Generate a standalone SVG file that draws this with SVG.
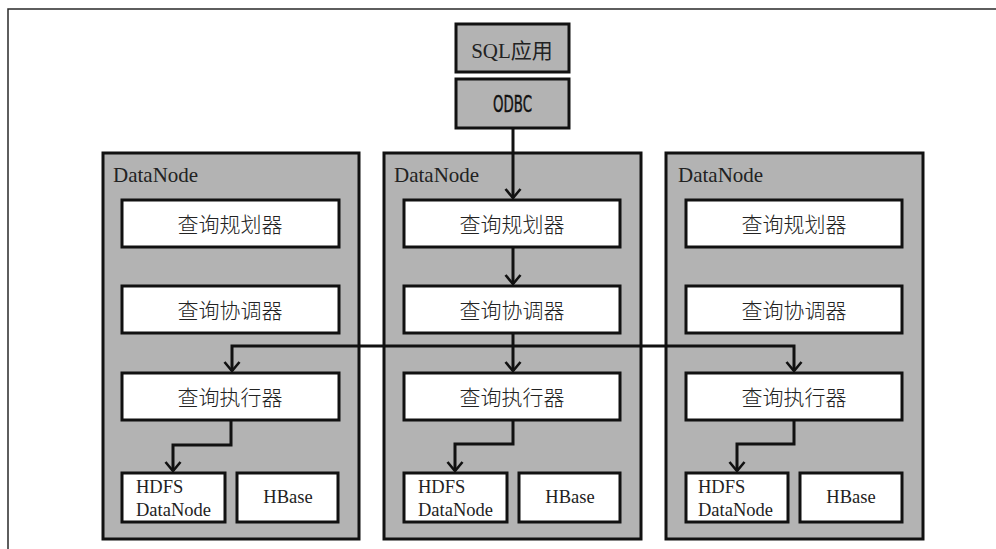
<svg xmlns="http://www.w3.org/2000/svg" width="996" height="549" viewBox="0 0 996 549">
<defs>
<style>
.frame{fill:none;stroke:#2a2a2a;stroke-width:1.5}
.gray{fill:#b3b3b3;stroke:#111;stroke-width:3}
.white{fill:#fff;stroke:#111;stroke-width:3}
.con{fill:none;stroke:#111;stroke-width:3}
.serif{font-family:"Liberation Serif","Noto Sans CJK SC",serif;fill:#222}
.cjk{font-family:"Noto Sans CJK SC",sans-serif;font-size:21px;font-weight:300;fill:#222;text-anchor:middle}
.dn{font-size:21px}
.small{font-size:18.5px}
.narrow{font-family:"DejaVu Sans Condensed","DejaVu Sans",sans-serif;font-stretch:condensed;font-size:23px;fill:#111;stroke:#111;stroke-width:0.4}
</style>
<marker id="arr" viewBox="0 0 12 18" refX="10" refY="9" markerWidth="12" markerHeight="18" markerUnits="userSpaceOnUse" orient="auto-start-reverse">
<path d="M1,1.5 L10,9 L1,16.5" fill="none" stroke="#111" stroke-width="2.6"/>
</marker>
</defs>
<rect width="996" height="549" fill="#fff"/>
<path class="frame" d="M8,549 V9 H996"/>

<g id="sql">
<rect class="gray" x="456" y="24" width="113" height="48"/>
<text class="serif" x="512" y="58" font-size="21" text-anchor="middle">SQL应用</text>
</g>
<g id="odbc">
<rect class="gray" x="456" y="79" width="113" height="49"/>
<text class="narrow" x="493" y="112" textLength="39" lengthAdjust="spacingAndGlyphs">ODBC</text>
</g>

<g id="datanode1">
<rect class="gray" x="103" y="153" width="256" height="386"/>
<text class="serif dn" x="113" y="182">DataNode</text>
<g id="planner1"><rect class="white" x="122" y="200" width="217" height="47"/><text class="cjk" x="230" y="232">查询规划器</text></g>
<g id="coord1"><rect class="white" x="122" y="286" width="217" height="47"/><text class="cjk" x="230" y="318">查询协调器</text></g>
<g id="exec1"><rect class="white" x="122" y="373" width="217" height="47"/><text class="cjk" x="230" y="405">查询执行器</text></g>
<g id="hdfs1"><rect class="white" x="122" y="473" width="103" height="49"/><text class="serif small" x="136" y="493">HDFS</text><text class="serif small" x="136" y="516">DataNode</text></g>
<g id="hbase1"><rect class="white" x="237" y="473" width="101" height="49"/><text class="serif small" x="288" y="503" text-anchor="middle">HBase</text></g>
</g>

<g id="datanode2">
<rect class="gray" x="384" y="153" width="257" height="386"/>
<text class="serif dn" x="394" y="182">DataNode</text>
<g id="planner2"><rect class="white" x="404" y="200" width="216" height="47"/><text class="cjk" x="512" y="232">查询规划器</text></g>
<g id="coord2"><rect class="white" x="404" y="286" width="216" height="47"/><text class="cjk" x="512" y="318">查询协调器</text></g>
<g id="exec2"><rect class="white" x="404" y="373" width="216" height="47"/><text class="cjk" x="512" y="405">查询执行器</text></g>
<g id="hdfs2"><rect class="white" x="404" y="473" width="103" height="49"/><text class="serif small" x="418" y="493">HDFS</text><text class="serif small" x="418" y="516">DataNode</text></g>
<g id="hbase2"><rect class="white" x="519" y="473" width="101" height="49"/><text class="serif small" x="570" y="503" text-anchor="middle">HBase</text></g>
</g>

<g id="datanode3">
<rect class="gray" x="666" y="153" width="257" height="386"/>
<text class="serif dn" x="678" y="182">DataNode</text>
<g id="planner3"><rect class="white" x="686" y="200" width="216" height="47"/><text class="cjk" x="794" y="232">查询规划器</text></g>
<g id="coord3"><rect class="white" x="686" y="286" width="216" height="47"/><text class="cjk" x="794" y="318">查询协调器</text></g>
<g id="exec3"><rect class="white" x="686" y="373" width="216" height="47"/><text class="cjk" x="794" y="405">查询执行器</text></g>
<g id="hdfs3"><rect class="white" x="686" y="473" width="102" height="49"/><text class="serif small" x="698" y="493">HDFS</text><text class="serif small" x="698" y="516">DataNode</text></g>
<g id="hbase3"><rect class="white" x="800" y="473" width="102" height="49"/><text class="serif small" x="851" y="503" text-anchor="middle">HBase</text></g>
</g>

<g id="connectors">
<path class="con" d="M513,128 V198" marker-end="url(#arr)"/>
<path class="con" d="M513,247 V284" marker-end="url(#arr)"/>
<path class="con" d="M513,333 V371" marker-end="url(#arr)"/>
<path class="con" d="M232,371 V346 H794 V371" marker-start="url(#arr)" marker-end="url(#arr)"/>
<path class="con" d="M231,420 V445 H173 V471" marker-end="url(#arr)"/>
<path class="con" d="M513,420 V444 H455 V471" marker-end="url(#arr)"/>
<path class="con" d="M794,420 V444 H737 V471" marker-end="url(#arr)"/>
</g>
</svg>
